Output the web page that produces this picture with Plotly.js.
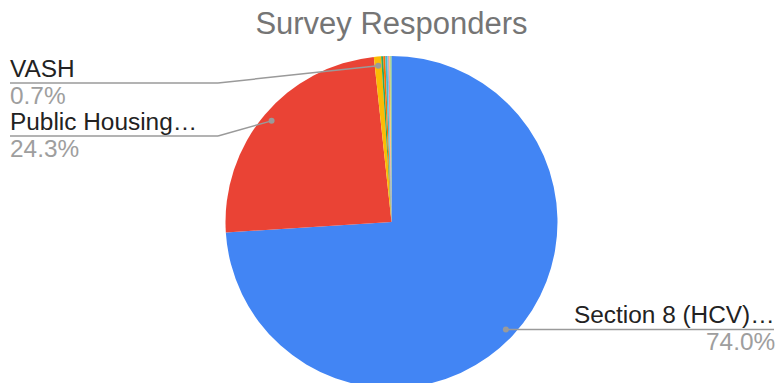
<!DOCTYPE html>
<html>
<head>
<meta charset="utf-8">
<script src="https://cdn.plot.ly/plotly-3.0.1.min.js"></script>
<style>
  html, body { margin: 0; padding: 0; overflow: hidden; background: #fff; }
  #chart { width: 775px; height: 388px; }
</style>
</head>
<body>
<div id="chart"></div>
<script>
// ---- data ----
const categories = ['Section 8 (HCV)…', 'Public Housing…', 'VASH',
  'Project-Based Voucher', 'Mainstream', 'FUP', 'Emergency Housing Voucher',
  'Mod Rehab', 'Other', "Don't know"];
const values = [74.0, 24.3, 0.7, 0.2, 0.2, 0.2, 0.1, 0.1, 0.1, 0.1];
const colors = ['#4285F4', '#EA4335', '#FBBC04', '#34A853', '#FF6D01',
  '#46BDC6', '#7BAAF7', '#F07B72', '#FCD04F', '#71C287'];
const labeled = [0, 1, 2];           // slices that carry an outside label
const chartTitle = 'Survey Responders';

// ---- layout constants ----
const W = 775, H = 388, mL = 8, mR = 0, mT = 56, mB = 0;
const FONT = 'Liberation Sans, Arial, sans-serif';
const LINE = '#9a9a9a';
const pw = W - mL - mR, ph = H - mT - mB;
const cx = mL + pw / 2, cy = mT + ph / 2, R = Math.min(pw, ph) / 2;
const px = x => (x - mL) / pw;
const py = y => 1 - (y - mT) / ph;

const total = values.reduce((a, b) => a + b, 0);
const pct = v => (v / total * 100).toFixed(1) + '%';

// mid-angle dot position of each slice (clockwise from 12 o'clock)
let cum = 0;
const mids = values.map(v => {
  const th = 2 * Math.PI * (cum + v / 2) / total;
  cum += v;
  return { x: cx + 0.945 * R * Math.sin(th), y: cy - 0.945 * R * Math.cos(th), th };
});

const shapes = [], annotations = [];
const leftRows = [83, 136];   // label rows on the left side (pixels)
const leftIdx = labeled.filter(i => Math.sin(mids[i].th) < 0)
  .sort((a, b) => mids[a].y - mids[b].y);
const rightIdx = labeled.filter(i => Math.sin(mids[i].th) >= 0);

function dot(m) {
  shapes.push({ type: 'circle', xref: 'paper', yref: 'paper', xsizemode: 'pixel', ysizemode: 'pixel',
    xanchor: px(m.x), yanchor: py(m.y), x0: -3, x1: 3, y0: -3, y1: 3,
    fillcolor: LINE, line: { width: 0 } });
}
function seg(x0, y0, x1, y1) {
  shapes.push({ type: 'line', xref: 'paper', yref: 'paper', x0: px(x0), y0: py(y0), x1: px(x1), y1: py(y1),
    line: { color: LINE, width: 1.5 } });
}
function labelPair(i, x, rowY, anchor) {
  annotations.push({ xref: 'paper', yref: 'paper', x: px(x), y: py(rowY), xanchor: anchor, yanchor: 'bottom',
    borderpad: 0, text: categories[i], showarrow: false, font: { family: FONT, size: 24.4, color: '#222222' } });
  annotations.push({ xref: 'paper', yref: 'paper', x: px(x), y: py(rowY - 2), xanchor: anchor, yanchor: 'top',
    borderpad: 0, text: pct(values[i]), showarrow: false, font: { family: FONT, size: 24.4, color: '#9e9e9e' } });
}

leftIdx.forEach((i, k) => {
  const m = mids[i], rowY = leftRows[k];
  seg(m.x, m.y, 218, rowY);
  seg(218, rowY, 10, rowY);
  dot(m);
  labelPair(i, 9, rowY, 'left');
});
rightIdx.forEach(i => {
  const m = mids[i];
  seg(m.x, m.y, 774, m.y);
  dot(m);
  labelPair(i, 776, m.y, 'right');
});

const trace = {
  type: 'pie', labels: categories, values: values, sort: false,
  direction: 'clockwise', rotation: 0, textinfo: 'none', hoverinfo: 'none',
  marker: { colors: colors, line: { width: 0 } }
};

const layout = {
  width: W, height: H,
  margin: { l: mL, r: mR, t: mT, b: mB },
  showlegend: false,
  paper_bgcolor: '#ffffff',
  title: { text: chartTitle, font: { family: FONT, size: 31, color: '#757575' },
    x: 0.5, xref: 'paper', y: 1 - 23 / H, yref: 'container', yanchor: 'middle' },
  shapes: shapes,
  annotations: annotations
};

Plotly.newPlot('chart', [trace], layout, { staticPlot: true, displayModeBar: false });
</script>
</body>
</html>
